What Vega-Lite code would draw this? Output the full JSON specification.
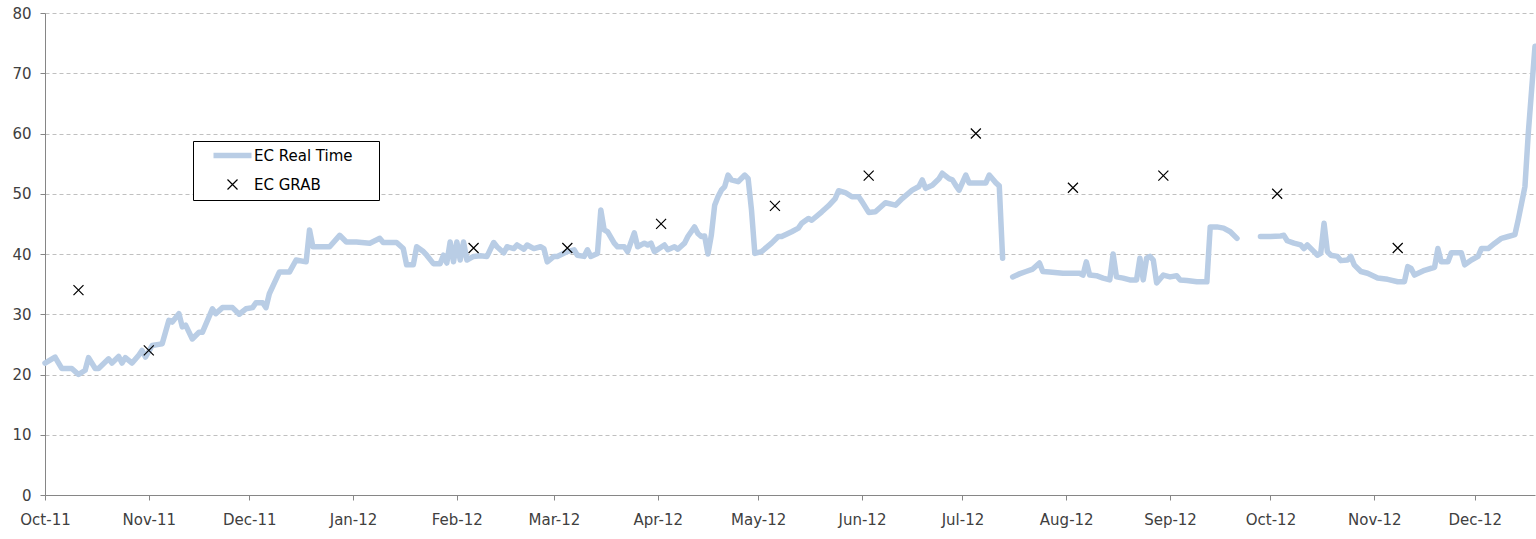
{
  "$schema": "https://vega.github.io/schema/vega-lite/v6.json",
  "width": 1490,
  "height": 482,
  "autosize": {"type": "none"},
  "padding": {"left": 45, "top": 13, "right": 1, "bottom": 44},
  "background": "white",
  "config": {
    "view": {"stroke": null},
    "font": "DejaVu Sans",
    "axis": {
      "labelFont": "DejaVu Sans",
      "labelFontSize": 15,
      "labelColor": "#404040",
      "domainColor": "#868686",
      "tickColor": "#868686",
      "tickSize": 5,
      "title": null
    }
  },
  "datasets": {
    "rt": [
      {"date": "2011-10-01", "ec": 21.9, "seg": 1},
      {"date": "2011-10-04", "ec": 22.9, "seg": 1},
      {"date": "2011-10-06", "ec": 21.0, "seg": 1},
      {"date": "2011-10-09", "ec": 21.0, "seg": 1},
      {"date": "2011-10-11", "ec": 20.0, "seg": 1},
      {"date": "2011-10-13", "ec": 20.7, "seg": 1},
      {"date": "2011-10-14", "ec": 22.8, "seg": 1},
      {"date": "2011-10-16", "ec": 21.0, "seg": 1},
      {"date": "2011-10-17", "ec": 21.0, "seg": 1},
      {"date": "2011-10-20", "ec": 22.6, "seg": 1},
      {"date": "2011-10-21", "ec": 21.9, "seg": 1},
      {"date": "2011-10-23", "ec": 23.0, "seg": 1},
      {"date": "2011-10-24", "ec": 21.9, "seg": 1},
      {"date": "2011-10-25", "ec": 22.8, "seg": 1},
      {"date": "2011-10-27", "ec": 21.9, "seg": 1},
      {"date": "2011-10-29", "ec": 23.2, "seg": 1},
      {"date": "2011-10-30", "ec": 24.0, "seg": 1},
      {"date": "2011-10-31", "ec": 22.9, "seg": 1},
      {"date": "2011-11-02", "ec": 24.8, "seg": 1},
      {"date": "2011-11-04", "ec": 25.0, "seg": 1},
      {"date": "2011-11-05", "ec": 25.1, "seg": 1},
      {"date": "2011-11-07", "ec": 29.0, "seg": 1},
      {"date": "2011-11-08", "ec": 28.7, "seg": 1},
      {"date": "2011-11-10", "ec": 30.1, "seg": 1},
      {"date": "2011-11-11", "ec": 27.9, "seg": 1},
      {"date": "2011-11-12", "ec": 28.2, "seg": 1},
      {"date": "2011-11-14", "ec": 25.9, "seg": 1},
      {"date": "2011-11-16", "ec": 27.0, "seg": 1},
      {"date": "2011-11-17", "ec": 27.0, "seg": 1},
      {"date": "2011-11-20", "ec": 30.9, "seg": 1},
      {"date": "2011-11-21", "ec": 30.1, "seg": 1},
      {"date": "2011-11-23", "ec": 31.1, "seg": 1},
      {"date": "2011-11-26", "ec": 31.1, "seg": 1},
      {"date": "2011-11-28", "ec": 30.0, "seg": 1},
      {"date": "2011-11-30", "ec": 30.9, "seg": 1},
      {"date": "2011-12-02", "ec": 31.1, "seg": 1},
      {"date": "2011-12-03", "ec": 31.9, "seg": 1},
      {"date": "2011-12-05", "ec": 31.9, "seg": 1},
      {"date": "2011-12-06", "ec": 31.1, "seg": 1},
      {"date": "2011-12-07", "ec": 33.4, "seg": 1},
      {"date": "2011-12-10", "ec": 37.0, "seg": 1},
      {"date": "2011-12-13", "ec": 37.0, "seg": 1},
      {"date": "2011-12-15", "ec": 39.0, "seg": 1},
      {"date": "2011-12-18", "ec": 38.7, "seg": 1},
      {"date": "2011-12-19", "ec": 44.0, "seg": 1},
      {"date": "2011-12-20", "ec": 41.2, "seg": 1},
      {"date": "2011-12-25", "ec": 41.2, "seg": 1},
      {"date": "2011-12-28", "ec": 43.1, "seg": 1},
      {"date": "2011-12-30", "ec": 42.0, "seg": 1},
      {"date": "2012-01-02", "ec": 42.0, "seg": 1},
      {"date": "2012-01-06", "ec": 41.8, "seg": 1},
      {"date": "2012-01-09", "ec": 42.6, "seg": 1},
      {"date": "2012-01-10", "ec": 41.9, "seg": 1},
      {"date": "2012-01-14", "ec": 41.9, "seg": 1},
      {"date": "2012-01-16", "ec": 40.9, "seg": 1},
      {"date": "2012-01-17", "ec": 38.2, "seg": 1},
      {"date": "2012-01-19", "ec": 38.2, "seg": 1},
      {"date": "2012-01-20", "ec": 41.2, "seg": 1},
      {"date": "2012-01-22", "ec": 40.4, "seg": 1},
      {"date": "2012-01-23", "ec": 39.8, "seg": 1},
      {"date": "2012-01-25", "ec": 38.4, "seg": 1},
      {"date": "2012-01-27", "ec": 38.4, "seg": 1},
      {"date": "2012-01-28", "ec": 39.8, "seg": 1},
      {"date": "2012-01-29", "ec": 38.5, "seg": 1},
      {"date": "2012-01-30", "ec": 42.0, "seg": 1},
      {"date": "2012-01-31", "ec": 38.7, "seg": 1},
      {"date": "2012-02-01", "ec": 42.0, "seg": 1},
      {"date": "2012-02-02", "ec": 39.0, "seg": 1},
      {"date": "2012-02-03", "ec": 42.0, "seg": 1},
      {"date": "2012-02-04", "ec": 39.0, "seg": 1},
      {"date": "2012-02-06", "ec": 39.6, "seg": 1},
      {"date": "2012-02-08", "ec": 39.7, "seg": 1},
      {"date": "2012-02-10", "ec": 39.6, "seg": 1},
      {"date": "2012-02-12", "ec": 41.9, "seg": 1},
      {"date": "2012-02-13", "ec": 41.2, "seg": 1},
      {"date": "2012-02-15", "ec": 40.2, "seg": 1},
      {"date": "2012-02-16", "ec": 41.2, "seg": 1},
      {"date": "2012-02-18", "ec": 40.9, "seg": 1},
      {"date": "2012-02-19", "ec": 41.5, "seg": 1},
      {"date": "2012-02-21", "ec": 40.8, "seg": 1},
      {"date": "2012-02-22", "ec": 41.5, "seg": 1},
      {"date": "2012-02-24", "ec": 40.9, "seg": 1},
      {"date": "2012-02-26", "ec": 41.2, "seg": 1},
      {"date": "2012-02-27", "ec": 40.9, "seg": 1},
      {"date": "2012-02-28", "ec": 38.7, "seg": 1},
      {"date": "2012-03-01", "ec": 39.6, "seg": 1},
      {"date": "2012-03-02", "ec": 39.6, "seg": 1},
      {"date": "2012-03-05", "ec": 40.4, "seg": 1},
      {"date": "2012-03-07", "ec": 40.7, "seg": 1},
      {"date": "2012-03-08", "ec": 39.8, "seg": 1},
      {"date": "2012-03-10", "ec": 39.6, "seg": 1},
      {"date": "2012-03-11", "ec": 40.7, "seg": 1},
      {"date": "2012-03-12", "ec": 39.6, "seg": 1},
      {"date": "2012-03-14", "ec": 40.1, "seg": 1},
      {"date": "2012-03-15", "ec": 47.3, "seg": 1},
      {"date": "2012-03-16", "ec": 44.0, "seg": 1},
      {"date": "2012-03-17", "ec": 43.7, "seg": 1},
      {"date": "2012-03-19", "ec": 41.8, "seg": 1},
      {"date": "2012-03-20", "ec": 41.2, "seg": 1},
      {"date": "2012-03-22", "ec": 41.2, "seg": 1},
      {"date": "2012-03-23", "ec": 40.4, "seg": 1},
      {"date": "2012-03-25", "ec": 43.5, "seg": 1},
      {"date": "2012-03-26", "ec": 41.2, "seg": 1},
      {"date": "2012-03-28", "ec": 41.8, "seg": 1},
      {"date": "2012-03-29", "ec": 41.5, "seg": 1},
      {"date": "2012-03-30", "ec": 41.8, "seg": 1},
      {"date": "2012-03-31", "ec": 40.4, "seg": 1},
      {"date": "2012-04-03", "ec": 41.5, "seg": 1},
      {"date": "2012-04-04", "ec": 40.7, "seg": 1},
      {"date": "2012-04-06", "ec": 41.2, "seg": 1},
      {"date": "2012-04-07", "ec": 40.8, "seg": 1},
      {"date": "2012-04-09", "ec": 41.8, "seg": 1},
      {"date": "2012-04-10", "ec": 42.9, "seg": 1},
      {"date": "2012-04-12", "ec": 44.5, "seg": 1},
      {"date": "2012-04-13", "ec": 43.4, "seg": 1},
      {"date": "2012-04-14", "ec": 42.9, "seg": 1},
      {"date": "2012-04-15", "ec": 43.0, "seg": 1},
      {"date": "2012-04-16", "ec": 40.0, "seg": 1},
      {"date": "2012-04-17", "ec": 43.1, "seg": 1},
      {"date": "2012-04-18", "ec": 48.1, "seg": 1},
      {"date": "2012-04-19", "ec": 49.5, "seg": 1},
      {"date": "2012-04-20", "ec": 50.6, "seg": 1},
      {"date": "2012-04-21", "ec": 51.2, "seg": 1},
      {"date": "2012-04-22", "ec": 53.1, "seg": 1},
      {"date": "2012-04-23", "ec": 52.3, "seg": 1},
      {"date": "2012-04-25", "ec": 52.0, "seg": 1},
      {"date": "2012-04-27", "ec": 53.1, "seg": 1},
      {"date": "2012-04-28", "ec": 52.5, "seg": 1},
      {"date": "2012-04-29", "ec": 47.3, "seg": 1},
      {"date": "2012-04-30", "ec": 40.1, "seg": 1},
      {"date": "2012-05-02", "ec": 40.4, "seg": 1},
      {"date": "2012-05-05", "ec": 41.8, "seg": 1},
      {"date": "2012-05-07", "ec": 42.9, "seg": 1},
      {"date": "2012-05-08", "ec": 42.9, "seg": 1},
      {"date": "2012-05-11", "ec": 43.7, "seg": 1},
      {"date": "2012-05-13", "ec": 44.3, "seg": 1},
      {"date": "2012-05-14", "ec": 45.1, "seg": 1},
      {"date": "2012-05-16", "ec": 45.9, "seg": 1},
      {"date": "2012-05-17", "ec": 45.6, "seg": 1},
      {"date": "2012-05-20", "ec": 47.0, "seg": 1},
      {"date": "2012-05-22", "ec": 48.0, "seg": 1},
      {"date": "2012-05-24", "ec": 49.2, "seg": 1},
      {"date": "2012-05-25", "ec": 50.5, "seg": 1},
      {"date": "2012-05-27", "ec": 50.2, "seg": 1},
      {"date": "2012-05-29", "ec": 49.5, "seg": 1},
      {"date": "2012-05-31", "ec": 49.5, "seg": 1},
      {"date": "2012-06-01", "ec": 48.7, "seg": 1},
      {"date": "2012-06-03", "ec": 46.9, "seg": 1},
      {"date": "2012-06-05", "ec": 47.0, "seg": 1},
      {"date": "2012-06-07", "ec": 48.0, "seg": 1},
      {"date": "2012-06-08", "ec": 48.5, "seg": 1},
      {"date": "2012-06-11", "ec": 48.1, "seg": 1},
      {"date": "2012-06-13", "ec": 49.2, "seg": 1},
      {"date": "2012-06-16", "ec": 50.6, "seg": 1},
      {"date": "2012-06-18", "ec": 51.2, "seg": 1},
      {"date": "2012-06-19", "ec": 52.3, "seg": 1},
      {"date": "2012-06-20", "ec": 50.9, "seg": 1},
      {"date": "2012-06-22", "ec": 51.4, "seg": 1},
      {"date": "2012-06-24", "ec": 52.5, "seg": 1},
      {"date": "2012-06-25", "ec": 53.4, "seg": 1},
      {"date": "2012-06-27", "ec": 52.5, "seg": 1},
      {"date": "2012-06-28", "ec": 52.3, "seg": 1},
      {"date": "2012-06-29", "ec": 51.4, "seg": 1},
      {"date": "2012-06-30", "ec": 50.6, "seg": 1},
      {"date": "2012-07-02", "ec": 53.1, "seg": 1},
      {"date": "2012-07-03", "ec": 51.8, "seg": 1},
      {"date": "2012-07-06", "ec": 51.8, "seg": 1},
      {"date": "2012-07-08", "ec": 51.8, "seg": 1},
      {"date": "2012-07-09", "ec": 53.1, "seg": 1},
      {"date": "2012-07-11", "ec": 51.8, "seg": 1},
      {"date": "2012-07-12", "ec": 51.3, "seg": 1},
      {"date": "2012-07-13", "ec": 39.3, "seg": 1},
      {"date": "2012-07-16", "ec": 36.2, "seg": 2},
      {"date": "2012-07-18", "ec": 36.7, "seg": 2},
      {"date": "2012-07-20", "ec": 37.1, "seg": 2},
      {"date": "2012-07-22", "ec": 37.5, "seg": 2},
      {"date": "2012-07-24", "ec": 38.5, "seg": 2},
      {"date": "2012-07-25", "ec": 37.1, "seg": 2},
      {"date": "2012-07-27", "ec": 37.0, "seg": 2},
      {"date": "2012-07-31", "ec": 36.8, "seg": 2},
      {"date": "2012-08-03", "ec": 36.8, "seg": 2},
      {"date": "2012-08-05", "ec": 36.8, "seg": 2},
      {"date": "2012-08-06", "ec": 36.5, "seg": 2},
      {"date": "2012-08-07", "ec": 38.7, "seg": 2},
      {"date": "2012-08-08", "ec": 36.5, "seg": 2},
      {"date": "2012-08-10", "ec": 36.4, "seg": 2},
      {"date": "2012-08-12", "ec": 36.0, "seg": 2},
      {"date": "2012-08-14", "ec": 35.7, "seg": 2},
      {"date": "2012-08-15", "ec": 40.0, "seg": 2},
      {"date": "2012-08-16", "ec": 36.2, "seg": 2},
      {"date": "2012-08-18", "ec": 36.0, "seg": 2},
      {"date": "2012-08-20", "ec": 35.7, "seg": 2},
      {"date": "2012-08-22", "ec": 35.7, "seg": 2},
      {"date": "2012-08-23", "ec": 39.3, "seg": 2},
      {"date": "2012-08-24", "ec": 35.7, "seg": 2},
      {"date": "2012-08-25", "ec": 39.3, "seg": 2},
      {"date": "2012-08-26", "ec": 39.6, "seg": 2},
      {"date": "2012-08-27", "ec": 39.0, "seg": 2},
      {"date": "2012-08-28", "ec": 35.2, "seg": 2},
      {"date": "2012-08-30", "ec": 36.5, "seg": 2},
      {"date": "2012-09-01", "ec": 36.2, "seg": 2},
      {"date": "2012-09-03", "ec": 36.4, "seg": 2},
      {"date": "2012-09-04", "ec": 35.7, "seg": 2},
      {"date": "2012-09-06", "ec": 35.6, "seg": 2},
      {"date": "2012-09-09", "ec": 35.4, "seg": 2},
      {"date": "2012-09-12", "ec": 35.4, "seg": 2},
      {"date": "2012-09-13", "ec": 44.5, "seg": 2},
      {"date": "2012-09-15", "ec": 44.5, "seg": 2},
      {"date": "2012-09-17", "ec": 44.3, "seg": 2},
      {"date": "2012-09-19", "ec": 43.7, "seg": 2},
      {"date": "2012-09-21", "ec": 42.6, "seg": 2},
      {"date": "2012-09-28", "ec": 42.9, "seg": 3},
      {"date": "2012-10-01", "ec": 42.9, "seg": 3},
      {"date": "2012-10-04", "ec": 43.0, "seg": 3},
      {"date": "2012-10-05", "ec": 43.1, "seg": 3},
      {"date": "2012-10-06", "ec": 42.2, "seg": 3},
      {"date": "2012-10-08", "ec": 41.8, "seg": 3},
      {"date": "2012-10-10", "ec": 41.5, "seg": 3},
      {"date": "2012-10-11", "ec": 40.9, "seg": 3},
      {"date": "2012-10-12", "ec": 41.5, "seg": 3},
      {"date": "2012-10-14", "ec": 40.4, "seg": 3},
      {"date": "2012-10-15", "ec": 39.8, "seg": 3},
      {"date": "2012-10-16", "ec": 40.1, "seg": 3},
      {"date": "2012-10-17", "ec": 45.1, "seg": 3},
      {"date": "2012-10-18", "ec": 40.4, "seg": 3},
      {"date": "2012-10-19", "ec": 39.8, "seg": 3},
      {"date": "2012-10-21", "ec": 39.6, "seg": 3},
      {"date": "2012-10-22", "ec": 38.9, "seg": 3},
      {"date": "2012-10-24", "ec": 39.0, "seg": 3},
      {"date": "2012-10-25", "ec": 39.6, "seg": 3},
      {"date": "2012-10-26", "ec": 38.2, "seg": 3},
      {"date": "2012-10-28", "ec": 37.1, "seg": 3},
      {"date": "2012-10-30", "ec": 36.8, "seg": 3},
      {"date": "2012-11-02", "ec": 36.0, "seg": 3},
      {"date": "2012-11-05", "ec": 35.8, "seg": 3},
      {"date": "2012-11-08", "ec": 35.4, "seg": 3},
      {"date": "2012-11-10", "ec": 35.4, "seg": 3},
      {"date": "2012-11-11", "ec": 37.9, "seg": 3},
      {"date": "2012-11-12", "ec": 37.6, "seg": 3},
      {"date": "2012-11-13", "ec": 36.5, "seg": 3},
      {"date": "2012-11-16", "ec": 37.3, "seg": 3},
      {"date": "2012-11-19", "ec": 37.8, "seg": 3},
      {"date": "2012-11-20", "ec": 40.9, "seg": 3},
      {"date": "2012-11-21", "ec": 38.7, "seg": 3},
      {"date": "2012-11-23", "ec": 38.7, "seg": 3},
      {"date": "2012-11-24", "ec": 40.2, "seg": 3},
      {"date": "2012-11-27", "ec": 40.2, "seg": 3},
      {"date": "2012-11-28", "ec": 38.2, "seg": 3},
      {"date": "2012-11-30", "ec": 39.0, "seg": 3},
      {"date": "2012-12-02", "ec": 39.6, "seg": 3},
      {"date": "2012-12-03", "ec": 40.9, "seg": 3},
      {"date": "2012-12-05", "ec": 40.9, "seg": 3},
      {"date": "2012-12-07", "ec": 41.8, "seg": 3},
      {"date": "2012-12-09", "ec": 42.6, "seg": 3},
      {"date": "2012-12-11", "ec": 42.9, "seg": 3},
      {"date": "2012-12-13", "ec": 43.2, "seg": 3},
      {"date": "2012-12-14", "ec": 45.7, "seg": 3},
      {"date": "2012-12-16", "ec": 51.2, "seg": 3},
      {"date": "2012-12-17", "ec": 60.1, "seg": 3},
      {"date": "2012-12-18", "ec": 67.3, "seg": 3},
      {"date": "2012-12-19", "ec": 74.5, "seg": 3}
    ],
    "grab": [
      {"date": "2011-10-11", "ec": 34},
      {"date": "2011-11-01", "ec": 24},
      {"date": "2012-02-06", "ec": 41},
      {"date": "2012-03-05", "ec": 41},
      {"date": "2012-04-02", "ec": 45},
      {"date": "2012-05-06", "ec": 48},
      {"date": "2012-06-03", "ec": 53},
      {"date": "2012-07-05", "ec": 60},
      {"date": "2012-08-03", "ec": 51},
      {"date": "2012-08-30", "ec": 53},
      {"date": "2012-10-03", "ec": 50},
      {"date": "2012-11-08", "ec": 41}
    ]
  },
  "layer": [
    {
      "data": {"name": "rt"},
      "mark": {"type": "line", "strokeWidth": 5.5, "strokeCap": "round", "strokeJoin": "round"},
      "encoding": {
        "x": {
          "field": "date",
          "type": "temporal",
          "scale": {
            "type": "utc",
            "domain": [
              {"year": 2011, "month": 10, "date": 1, "utc": true},
              {"year": 2012, "month": 12, "date": 19, "utc": true}
            ]
          },
          "axis": {
            "format": "%b-%y",
            "tickCount": {"interval": "month", "step": 1},
            "labelOverlap": false,
            "labelBound": false,
            "labelFlush": false,
            "labelPadding": 12,
            "grid": false
          }
        },
        "y": {
          "field": "ec",
          "type": "quantitative",
          "scale": {"domain": [0, 80], "nice": false},
          "axis": {
            "values": [0, 10, 20, 30, 40, 50, 60, 70, 80],
            "labelPadding": 9,
            "grid": true,
            "gridColor": "#c0c0c0",
            "gridDash": [4, 3],
            "gridWidth": 1
          }
        },
        "detail": {"field": "seg", "type": "nominal"},
        "color": {
          "datum": "EC Real Time",
          "type": "nominal",
          "scale": {"domain": ["EC Real Time", "EC GRAB"], "range": ["#b9cde5", "#000000"]},
          "legend": {
            "title": "xx",
            "titleOrient": "right",
            "titleColor": "rgba(0,0,0,0)",
            "titleFontSize": 13,
            "titlePadding": 2,
            "orient": "none",
            "legendX": 148,
            "legendY": 128,
            "fillColor": "white",
            "strokeColor": "#000000",
            "padding": 7,
            "symbolSize": 144,
            "symbolOffset": 25,
            "labelOffset": 14,
            "rowPadding": 10,
            "labelFontSize": 15,
            "labelFont": "DejaVu Sans",
            "labelColor": "#000000",
            "labelLimit": 400,
            "encode": {
              "symbols": {
                "update": {
                  "shape": {"signal": "datum.value === 'EC GRAB' ? 'M-1,-1L1,1M-1,1L1,-1' : 'stroke'"},
                  "size": {"signal": "datum.value === 'EC GRAB' ? 100 : 1444"},
                  "strokeWidth": {"signal": "datum.value === 'EC GRAB' ? 1.2 : 5.5"},
                  "stroke": {"signal": "datum.value === 'EC GRAB' ? '#000000' : '#b9cde5'"},
                  "fill": {"value": "transparent"}
                }
              }
            }
          }
        }
      }
    },
    {
      "data": {"name": "grab"},
      "mark": {"type": "point", "shape": "M-1,-1L1,1M-1,1L1,-1", "filled": false, "size": 100, "strokeWidth": 1.2, "opacity": 1},
      "encoding": {
        "x": {"field": "date", "type": "temporal"},
        "y": {"field": "ec", "type": "quantitative"},
        "color": {"datum": "EC GRAB", "type": "nominal"}
      }
    }
  ]
}
